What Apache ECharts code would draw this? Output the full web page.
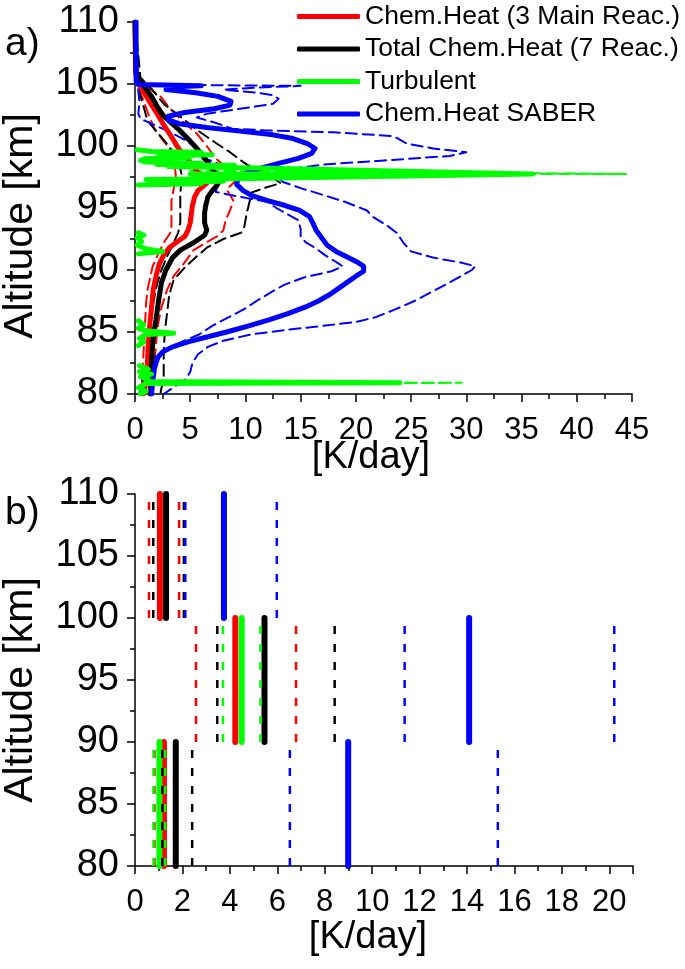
<!DOCTYPE html>
<html><head><meta charset="utf-8">
<script src="https://cdn.jsdelivr.net/npm/echarts@6/dist/echarts.min.js"></script>
<style>html,body{margin:0;padding:0;background:#fff}#c{width:685px;height:969px}</style>
</head><body><div id="c"></div>
<script>
// ---------- Panel a) profiles: [altitude km, K/day] ----------
const chem3Mean = [[110,0],[106,0.05],[105.2,0.2],[104.5,0.7],[103.6,1.3],[102.6,2.0],[101.7,2.6],[100.75,3.3],[100.0,3.8],[99.5,4.2],[98.8,4.9],[98.0,5.6],[97.4,6.2],[97.0,6.5],[96.7,6.1],[96.4,5.7],[95.9,5.4],[95.2,5.2],[94.5,5.1],[93.8,5.0],[93.2,4.8],[92.7,4.5],[92.2,3.7],[91.8,3.1],[91.2,2.6],[90.5,2.2],[89.5,1.9],[88.4,1.65],[87.0,1.5],[85.7,1.35],[84.0,1.2],[83.0,1.15],[81.4,1.05],[80.5,0.9],[80,0.75]];
const chem3Low = [[110,0],[105,0.1],[104.5,0.4],[103.7,0.75],[102.6,1.2],[101.5,1.7],[100.5,2.5],[99.7,3.2],[98.5,3.6],[97.5,3.7],[96.5,3.5],[95.6,3.3],[94.5,3.3],[93.5,3.3],[93.0,3.2],[92.2,2.6],[91.1,2.0],[90.3,1.6],[89.5,1.4],[88.5,1.15],[87.3,1.0],[85.5,0.9],[83.0,0.75],[81.5,0.65],[80,0.6]];
const chem3High = [[110,0],[105.5,0.3],[104.7,1.2],[104.0,2.3],[103.0,3.2],[102.0,4.3],[101.0,5.6],[100.0,6.5],[99.0,7.3],[98.3,8.2],[97.7,9.2],[97.4,9.6],[97.1,9.0],[96.5,8.3],[95.6,8.9],[94.8,8.6],[94.0,8.2],[93.2,8.0],[92.7,7.4],[92.4,6.8],[91.6,5.3],[90.5,4.4],[89.5,3.5],[88.4,2.9],[87.0,2.4],[85.7,2.1],[84.5,1.95],[83.0,1.8],[81.5,1.6],[80,1.45]];
const totMean = [[110,0],[106,0.1],[105.3,0.4],[104.9,0.75],[104.0,1.5],[103.2,2.0],[102.4,2.6],[101.3,4.0],[100.4,5.0],[99.7,5.7],[99.0,6.3],[98.3,6.9],[97.6,7.4],[97.1,7.6],[96.8,7.4],[96.4,7.0],[95.9,6.6],[95.2,6.4],[94.6,6.3],[93.8,6.3],[93.2,6.5],[92.8,6.3],[92.2,5.3],[91.6,4.1],[91.0,3.4],[90.0,2.8],[89.0,2.4],[87.6,2.15],[86.0,1.9],[84.9,1.7],[83.5,1.55],[82.5,1.5],[81.0,1.45],[80,1.4]];
const totLow = [[110,0],[105,0.2],[104,0.5],[102.8,0.9],[102.1,1.1],[101.2,1.9],[100.5,2.6],[99.7,3.3],[98.8,3.9],[97.8,4.2],[97.0,4.2],[96.2,4.1],[95.0,4.1],[93.8,4.1],[93.0,3.9],[92.0,3.4],[91.1,2.9],[90.0,2.4],[88.9,2.0],[87.3,1.65],[85.7,1.4],[84.3,1.2],[83.0,1.06],[81.5,0.9],[80,0.7]];
const totHigh = [[110,0],[105.5,0.5],[104.6,1.5],[103.4,2.6],[102.3,4.2],[101.3,5.6],[100.2,7.4],[99.5,8.6],[98.7,9.8],[98.0,11],[97.4,12.5],[97.0,13.2],[96.7,12],[96.2,10.4],[95.6,10.4],[94.5,10.1],[93.5,9.9],[93.0,9.6],[92.5,8.0],[91.8,6.5],[91.1,5.6],[90.2,4.5],[89.2,3.5],[88.0,3.1],[86.5,2.9],[85.0,2.7],[83.5,2.6],[82,2.6],[81.1,2.6],[80.5,2.4],[80,2.3]];
// turbulent heating comes in separate bursts (gaps between them carry no line)
const turbBurst1 = [[99.7,0.2],[99.55,1.5],[99.5,6.0],[99.4,2],[99.3,7],[99.2,3],[99.1,5],[99.0,1],[98.85,0.5],[98.7,1],[98.6,6],[98.5,2],[98.45,9],[98.35,3],[98.25,10],[97.75,36],[97.75,5],[97.75,36],[97.35,9],[97.3,1],[97.15,8],[97.05,2],[96.95,6],[96.85,0.3]];
const turbBurst2 = [[93.0,0.3],[92.8,0.8],[92.6,0.2],[92.3,0.6],[92.0,0.2],[91.7,1.0],[91.5,2.5],[91.4,1.5],[91.3,0.3]];
const turbBurst3 = [[85.9,0.3],[85.6,0.8],[85.3,0.3],[85.1,1.0],[84.9,3.5],[84.8,1],[84.5,0.4],[84.2,0.8],[83.9,0.3]];
const turbBurst4 = [[82.3,0.4],[82.0,1.2],[81.8,0.4],[81.6,1.5],[81.4,0.5],[81.2,1.2],[81.0,1],[80.9,24],[80.85,1],[80.7,1],[80.5,0.3],[80.2,1],[80.0,0.5]];
const turbHighA = [[98.0,5],[97.75,44.5],[97.7,5]];
const turbHighB = [[81.0,3],[80.9,29.6],[80.85,3]];
const saberMean = [[110,0.1],[105.2,0.1],[104.95,0.3],[104.85,6.0],[104.75,3.0],[104.55,2.8],[104.3,5.5],[104.0,7.5],[103.6,8.7],[103.3,8.6],[103.0,7.2],[102.7,4.5],[102.4,3.0],[102.1,3.0],[101.8,4.0],[101.5,6.5],[101.2,9.5],[100.9,12.5],[100.6,14.3],[100.2,15.6],[99.8,16.3],[99.4,16.0],[99.0,14.8],[98.6,13.0],[98.2,11.3],[97.8,10.0],[97.3,9.3],[96.9,9.2],[96.4,9.8],[96.0,10.6],[95.6,12.0],[95.2,13.6],[94.8,14.9],[94.3,15.8],[93.8,16.1],[93.2,16.4],[92.6,16.9],[92.0,17.4],[91.5,18.2],[91.0,19.3],[90.6,20.2],[90.3,20.7],[89.9,20.7],[89.5,20.0],[89.0,19.2],[88.5,18.4],[88.0,17.6],[87.5,16.6],[87.0,15.4],[86.5,13.9],[86.0,12.2],[85.5,10.3],[85.0,8.3],[84.6,6.5],[84.2,4.8],[83.8,3.4],[83.4,2.5],[83.0,2.1],[82.5,1.9],[82.0,1.75],[81.0,1.6],[80.0,1.5]];
const saberLow = [[110,0],[105.2,0],[104.9,0.2],[104.5,0.3],[103.5,0.4],[102.6,0.3],[102.2,0.5],[101.8,1.5],[101.2,3.0],[100.5,4.5],[99.7,5.8],[98.9,6.6],[98.5,7.8],[97.8,8.5],[97.4,8.5],[96.9,7.5],[96.3,7.3],[95.9,9.5],[95.5,12.0],[95.0,12.8],[94.5,13.8],[94.0,14.8],[93.3,15.0],[92.7,15.0],[92.2,15.5],[91.8,16.3],[91.2,17.2],[90.6,18.3],[90.3,18.8],[89.9,17.8],[89.4,15.3],[88.8,13.5],[88.2,12.3],[87.5,11.0],[86.8,9.8],[86.2,8.5],[85.5,7.0],[84.8,5.8],[84.2,4.2],[83.6,2.8],[83.1,1.9],[82.5,1.3],[82.0,1.0],[81.3,0.7],[80.5,0.5],[80,0.4]];
const saberHigh = [[110,0],[105.2,0.1],[104.95,0.5],[104.85,15.0],[104.7,11],[104.55,8.0],[104.3,11],[104.1,12.5],[103.8,13.0],[103.4,12.5],[103.0,9.5],[102.6,6.5],[102.3,5.6],[101.9,7.2],[101.4,8.8],[101.25,12],[101.1,18],[100.8,23.4],[100.2,24.6],[99.8,27],[99.5,30],[99.2,28.5],[98.8,22],[98.5,17],[98.0,13],[97.5,12.8],[97.1,13.4],[96.6,15],[96.2,16.5],[95.5,19],[94.8,21],[94.3,21.5],[93.6,22.8],[93.0,23.7],[92.2,24.3],[91.5,25],[91.0,27],[90.6,29.5],[90.3,30.8],[90.0,30.5],[89.5,29.5],[89.0,28.5],[88.3,27],[87.5,25.3],[86.8,23.5],[86.2,21.8],[85.8,20],[85.5,17],[85.2,14],[84.8,10.5],[84.3,8],[83.8,6.6],[83.2,5.7],[82.5,5.2],[81.8,5.0],[81.2,4.6],[80.6,3.6],[80,2.6]];

// ---------- Panel b) layer means: bands [bottom, top] km ----------
const bands = [[100,110],[90,100],[80,90]];
const bChem3Mean = [1.05, 4.23, 1.22];
const bChem3Low  = [0.59, 2.57, 0.82];
const bChem3High = [1.86, 6.79, 1.30];
const bTotMean   = [1.31, 5.46, 1.72];
const bTotLow    = [0.77, 3.47, 1.15];
const bTotHigh   = [2.06, 8.42, 2.41];
const bTurbMean  = [null, 4.50, 1.03];
const bTurbLow   = [null, 3.71, 0.78];
const bTurbHigh  = [null, 5.29, 1.27];
const bSaberMean = [3.75, 14.09, 8.99];
const bSaberLow  = [2.12, 11.37, 6.53];
const bSaberHigh = [5.98, 20.21, 15.30];

const topXTicks = {min:0, max:45, interval:5};
const botXTicks = {min:0, max:21, interval:2};
const altTicks = {min:80, max:110, interval:5};

const names = ['Chem.Heat (3 Main Reac.)','Total Chem.Heat (7 Reac.)','Turbulent','Chem.Heat SABER'];
const RED='#ff0000', BLK='#000000', GRN='#00ff00', BLU='#0000ff';
const FONT = 'Liberation Sans, Arial, sans-serif';

function prof(name, data, color, dashed, z){
  return {type:'line', name:name, xAxisIndex:0, yAxisIndex:0, data:data.map(p=>[p[1],p[0]]),
    symbol:'none', showSymbol:false, silent:true, animation:false, z:z, clip:true,
    lineStyle:{color:color, width:dashed?2:5, type:dashed?[11,6]:'solid', cap:'round', join:'round'},
    itemStyle:{color:color}};
}
const series = [
  prof('r_lo', chem3Low, RED, true, 2), prof('r_hi', chem3High, RED, true, 2),
  prof('k_lo', totLow, BLK, true, 2), prof('k_hi', totHigh, BLK, true, 2),
  prof('b_lo', saberLow, BLU, true, 2), prof('b_hi', saberHigh, BLU, true, 2),
  prof('g_hi', turbHighA, GRN, true, 2), prof('g_hi', turbHighB, GRN, true, 2),
  prof(names[0], chem3Mean, RED, false, 3),
  prof(names[1], totMean, BLK, false, 3),
  prof(names[3], saberMean, BLU, false, 4),
  prof(names[2], turbBurst1, GRN, false, 5), prof(names[2], turbBurst2, GRN, false, 5),
  prof(names[2], turbBurst3, GRN, false, 5), prof(names[2], turbBurst4, GRN, false, 5)
];
function seg(name, vals, color, dashed, z){
  vals.forEach((v,i)=>{
    if(v===null) return;
    series.push({type:'line', name:name, xAxisIndex:1, yAxisIndex:1,
      data:[[v,bands[i][0]],[v,bands[i][1]]], symbol:'none', showSymbol:false, silent:true, animation:false, z:z,
      lineStyle:{color:color, width:dashed?2.5:6, type:dashed?[8,10]:'solid', cap:dashed?'butt':'round'},
      itemStyle:{color:color}});
  });
}
seg('s_r', bChem3Mean, RED, false, 3); seg('s_k', bTotMean, BLK, false, 3);
seg('s_g', bTurbMean, GRN, false, 3); seg('s_b', bSaberMean, BLU, false, 3);
seg('d_r', bChem3Low, RED, true, 4); seg('d_r', bChem3High, RED, true, 4);
seg('d_k', bTotLow, BLK, true, 4); seg('d_k', bTotHigh, BLK, true, 4);
seg('d_g', bTurbLow, GRN, true, 4); seg('d_g', bTurbHigh, GRN, true, 4);
seg('d_b', bSaberLow, BLU, true, 4); seg('d_b', bSaberHigh, BLU, true, 4);

const axLine = {show:true, onZero:false, lineStyle:{color:'#000', width:1.5}};
const axTick = {show:true, length:8, lineStyle:{color:'#000', width:1.5}};
const mTick = {show:true, splitNumber:2, length:5, lineStyle:{color:'#000', width:1.5}};
function xAx(g, t){
  return Object.assign({gridIndex:g, type:'value', axisLine:axLine, axisTick:axTick,
    minorTick:mTick, splitLine:{show:false}, minorSplitLine:{show:false},
    axisLabel:{color:'#000', fontSize:31, fontFamily:FONT, margin:21,
      formatter:v=>(Math.abs(v - Math.round(v/t.interval)*t.interval)<1e-9 ? String(v) : '')}}, t);
}
function yAx(g){
  return Object.assign({gridIndex:g, type:'value', axisLine:axLine, axisTick:axTick,
    minorTick:mTick, splitLine:{show:false}, minorSplitLine:{show:false},
    axisLabel:{color:'#000', fontSize:38, fontFamily:FONT, margin:16}}, altTicks);
}

const option = {
  backgroundColor:'#fff', animation:false,
  grid:[{left:135, top:22, width:497, height:372, outerBoundsMode:'none', containLabel:false},
        {left:135, top:494, width:498, height:372, outerBoundsMode:'none', containLabel:false}],
  xAxis:[xAx(0, topXTicks), xAx(1, botXTicks)],
  yAxis:[yAx(0), yAx(1)],
  legend:{data:names, orient:'vertical', left:292, top:-2, itemWidth:63, itemHeight:5, itemGap:5.5,
    icon:'roundRect', textStyle:{color:'#000', fontSize:26.5, fontFamily:FONT}, selectedMode:false},
  graphic:[
    {type:'text', left:5, top:25, style:{text:'a)', font:'39px '+FONT, fill:'#000'}},
    {type:'text', left:5, top:494, style:{text:'b)', font:'39px '+FONT, fill:'#000'}},
    {type:'text', x:21, y:226, rotation:Math.PI/2, style:{text:'Altitude [km]', font:'41px '+FONT, fill:'#000', textAlign:'center', textVerticalAlign:'middle'}},
    {type:'text', x:21, y:690, rotation:Math.PI/2, style:{text:'Altitude [km]', font:'41px '+FONT, fill:'#000', textAlign:'center', textVerticalAlign:'middle'}},
    {type:'text', x:371, y:458, style:{text:'[K/day]', font:'38px '+FONT, fill:'#000', textAlign:'center', textVerticalAlign:'middle'}},
    {type:'text', x:368, y:938, style:{text:'[K/day]', font:'38px '+FONT, fill:'#000', textAlign:'center', textVerticalAlign:'middle'}}
  ],
  series:series
};
const chart = echarts.init(document.getElementById('c'), null, {renderer:'canvas'});
chart.setOption(option);
</script></body></html>
